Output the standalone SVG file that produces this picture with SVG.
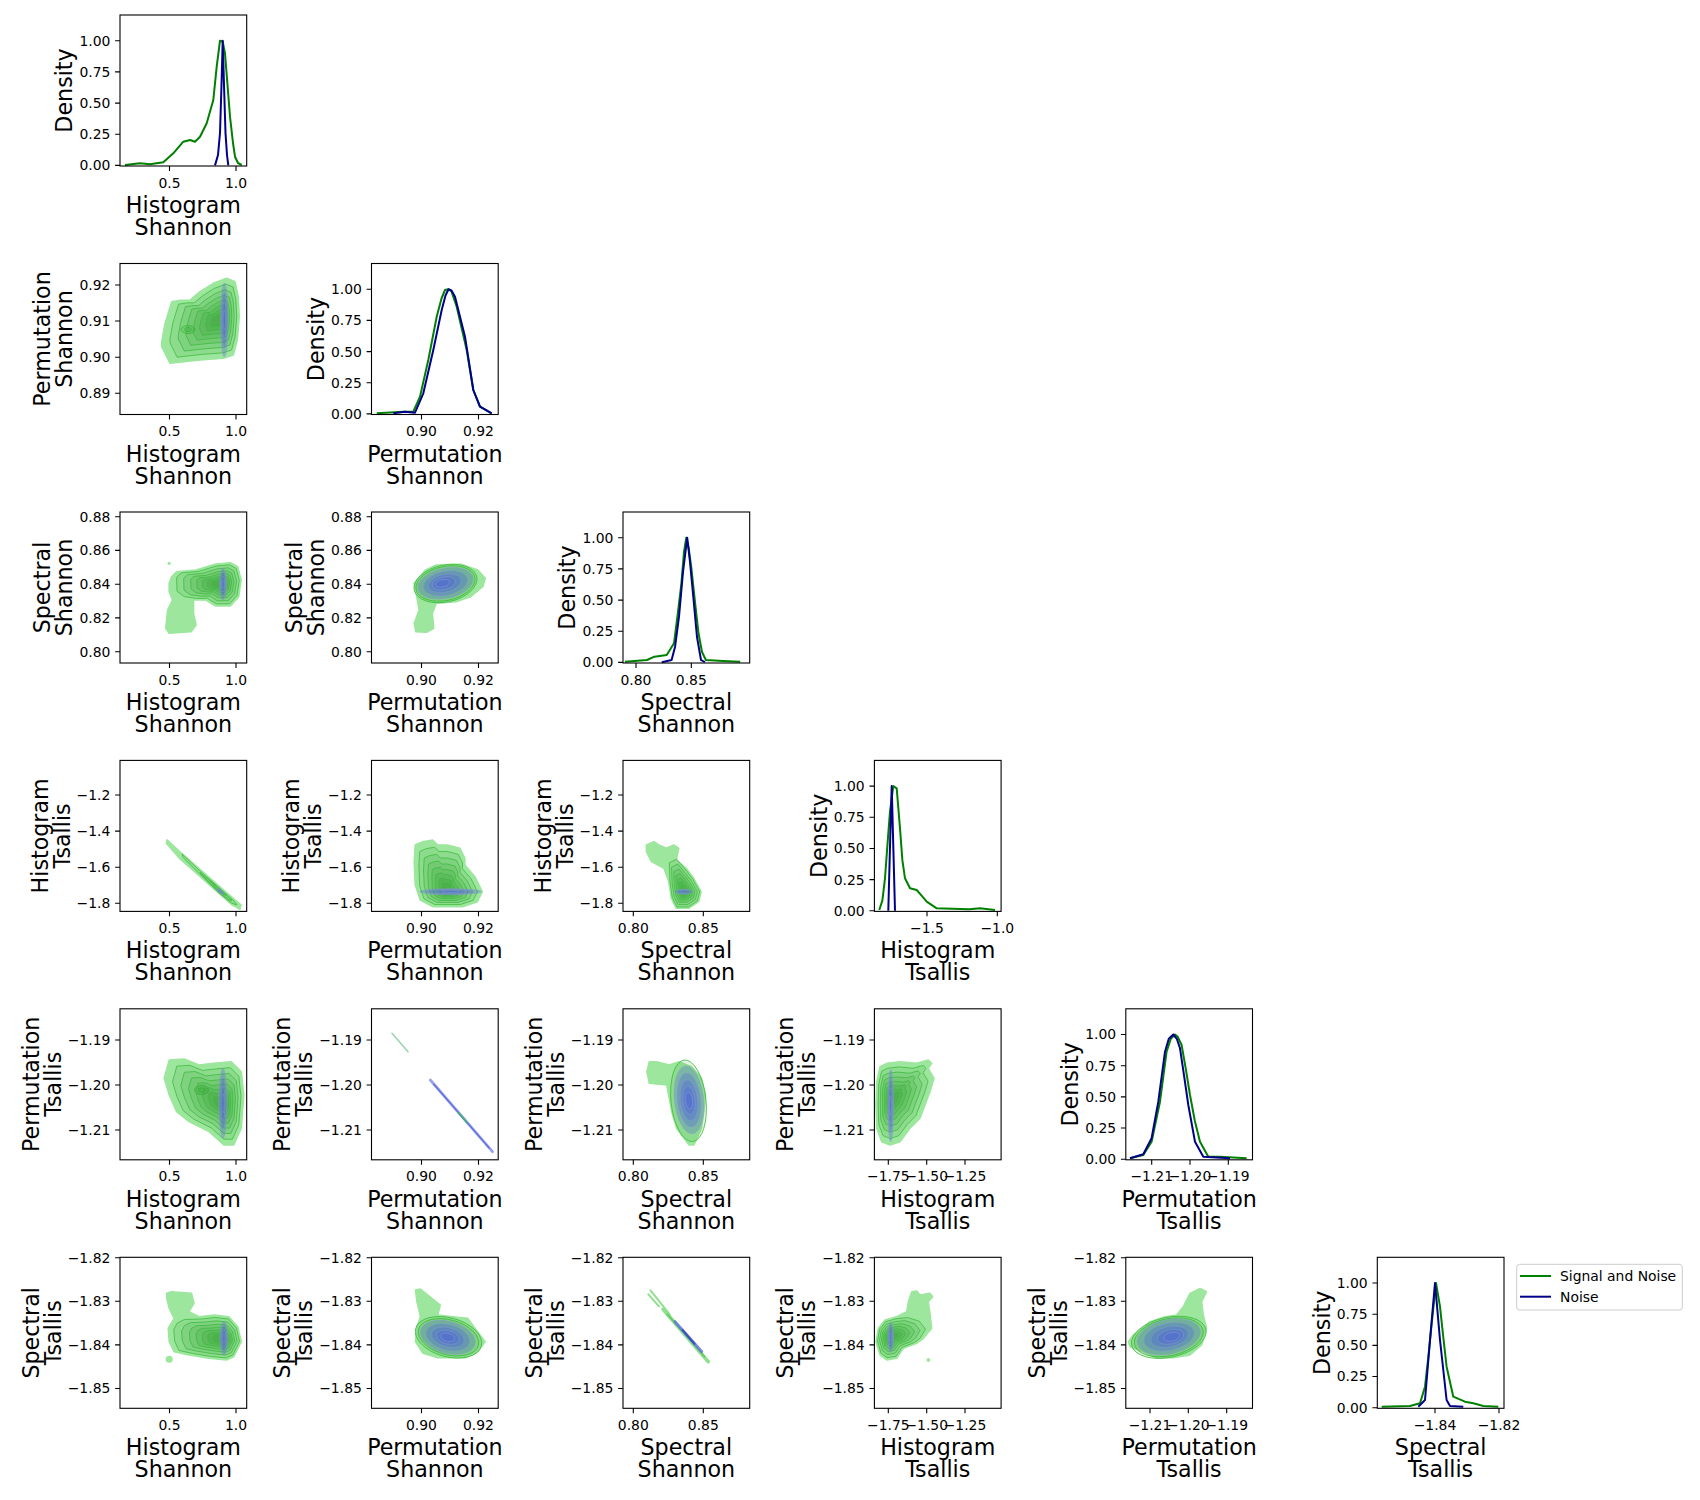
<svg xmlns="http://www.w3.org/2000/svg" xmlns:xlink="http://www.w3.org/1999/xlink" width="1700" height="1500" viewBox="0 0 1700 1500">
<style>
.ax{fill:none;stroke:#000;stroke-width:1.1}
.tm{stroke:#000;stroke-width:1.1;fill:none}
.tk{font-family:"DejaVu Sans","Liberation Sans",sans-serif;font-size:13.9px;fill:#000}
.xt{text-anchor:middle}
.yt{text-anchor:end}
.lb{font-family:"DejaVu Sans","Liberation Sans",sans-serif;font-size:22.2px;fill:#000;text-anchor:middle}
.g{fill:none;stroke:#008000;stroke-width:2;stroke-linejoin:round}
.n{fill:none;stroke:#00008b;stroke-width:2;stroke-linejoin:round}
.o{fill:#9de69d;stroke:#9de69d;stroke-width:1.5;stroke-linejoin:round}
.lv{fill:#138a13;fill-opacity:.11;stroke:#3dbb3d;stroke-width:.8;stroke-linejoin:round}
.bl{fill:#4c5ce0;fill-opacity:.28;stroke:#8c96dc;stroke-width:.5}
.lg{font-family:"DejaVu Sans","Liberation Sans",sans-serif;font-size:13.9px;fill:#000}
</style>
<defs>
<path id="k21" vector-effect="non-scaling-stroke" d="M41.7,78.2L45,60L51.7,38.2L60,36.8L70,36.5L80,28.2L93.3,19.8L106.7,14.8L115,18.2L118.3,33.2L119.3,53.2L117.3,76.5L113.3,91.5L103.3,94.8L80,96.5L50,99.8L46.7,93.2L41.7,83.2Z"/>
<ellipse id="e21" vector-effect="non-scaling-stroke" cx="104.3" cy="56.5" rx="3.8" ry="37"/>
<path id="k31" d="M51.6,64.7L56.5,59.7L76.1,58L95.7,52L110.4,50.7L117.7,54.7L121.2,68L118.7,84.7L110.4,94L95.7,94L85.9,88L73.6,88L73.6,101.3L76.1,113L71.2,119.7L49.1,121.3L45.7,116.3L47.6,98L52.5,88L49.1,79.7L49.1,71.3Z"/>
<path id="k31i" vector-effect="non-scaling-stroke" d="M51.6,64.7L56.5,59.7L76.1,58L95.7,52L110.4,50.7L117.7,54.7L121.2,68L118.7,84.7L110.4,94L95.7,94L85.9,88L73.6,88L60,86L52,80Z"/>
<ellipse id="e31" vector-effect="non-scaling-stroke" cx="103" cy="72" rx="3.5" ry="16"/>
<path id="k32" d="M54.1,58L64.8,53L89.3,52.3L106.4,58L113.8,66.3L111.3,74.7L99.1,84.7L84.4,89.7L64.8,91.3L60.9,101.3L62.3,116.3L55,120.3L44.2,119.7L42.7,111.3L47.6,98L45.2,84.7L42.7,71.3Z"/>
<ellipse id="e32" vector-effect="non-scaling-stroke" cx="74" cy="71.3" rx="28" ry="15" transform="rotate(-12 74 71.3)"/>
<path id="k42" vector-effect="non-scaling-stroke" d="M43.7,84.6L51.2,81.3L61.1,79.6L66.1,84.6L76,84.6L88.5,87.9L93.4,97.9L93.4,104.6L103.4,116.3L110.8,131.3L105.9,141.3L91,146.3L61.1,146.3L48.7,139.6L43.7,124.6L42.7,101.3Z"/>
<ellipse id="e42" vector-effect="non-scaling-stroke" cx="79" cy="131.3" rx="31" ry="3"/>
<path id="k43" d="M23.4,84.6L30.9,81.3L35.9,84.6L43.3,87.9L50.8,84.6L55.8,87.9L53.3,99.6L63.2,107.9L70.7,117.9L78.1,131.3L75.6,141.3L65.7,147.9L53.3,147.9L48.3,137.9L45.8,121.3L40.9,107.9L28.4,101.3L23.4,91.3Z"/>
<path id="k43i" vector-effect="non-scaling-stroke" d="M45,100L53,96L63.2,107.9L70.7,117.9L78.1,131.3L75.6,141.3L65.7,147.9L53.3,147.9L48.3,137.9L45.8,121.3Z"/>
<ellipse id="e43" vector-effect="non-scaling-stroke" cx="60.7" cy="131.3" rx="9" ry="2.5"/>
<path id="k51" vector-effect="non-scaling-stroke" d="M44.2,69.5L49.2,51.2L64.1,50.2L79,56.2L93.9,54.5L111.3,52.9L121.3,62.9L123.8,86.2L121.3,119.5L113.8,136.2L103.9,136.2L89,122.9L69,112.9L56.6,102.9L49.2,86.2Z"/>
<ellipse id="e51" vector-effect="non-scaling-stroke" cx="102.9" cy="94.5" rx="4" ry="35"/>
<path id="k53" d="M26.3,52.9L33.7,52.9L46.2,56.2L56.1,52.9L68.5,57.9L78.5,69.5L82.5,86.2L80.9,102.9L78.5,119.5L71,136.2L66,136.2L53.6,119.5L48.7,102.9L43.7,76.2L26.3,74.5L23.8,62.9Z"/>
<ellipse id="e53" vector-effect="non-scaling-stroke" cx="66" cy="91" rx="14.5" ry="34" transform="rotate(-6 66 91)"/>
<path id="k54" vector-effect="non-scaling-stroke" d="M2.3,72.9L5.6,57.9L12.3,54.5L25.6,52.9L42.3,54.5L53.9,51.2L57.3,54.5L53.9,59.5L59.6,69.5L55.6,82.9L50.6,96.2L45.6,109.5L35.6,119.5L25.6,132.9L15.6,136.2L7.3,132.9L2.3,119.5L1.6,96.2Z"/>
<ellipse id="e54" vector-effect="non-scaling-stroke" cx="16.3" cy="97" rx="2.8" ry="36"/>
<path id="k61" d="M46.7,36L51.6,34.4L71.5,36L74,46L69,54.4L79,59.4L93.9,57.7L108.9,59.4L117.8,69.4L121.3,84.4L113.8,99.4L106.4,102.7L89,101L69,97.7L54.1,94.4L49.2,84.4L48.2,71L54.1,61L49.2,51L46.7,41Z"/>
<path id="k61i" vector-effect="non-scaling-stroke" d="M52,64L60,60L79,59.4L93.9,57.7L108.9,59.4L117.8,69.4L121.3,84.4L113.8,99.4L106.4,102.7L89,101L69,97.7L54.1,94.4L49.2,84.4L48.2,71Z"/>
<ellipse id="e61" vector-effect="non-scaling-stroke" cx="103.9" cy="81" rx="4" ry="17"/>
<path id="k62" d="M43.9,32.7L48.9,31.7L56.4,37.7L68.8,47.7L66.3,57.7L81.2,59.4L96.2,61L106.1,74.4L113.6,84.4L106.1,94.4L93.7,100.4L66.3,100.4L51.4,96L43.9,84.4L45.4,69.4L48.9,59.4L45.4,44.4Z"/>
<ellipse id="e62" vector-effect="non-scaling-stroke" cx="76.3" cy="80" rx="28" ry="16" transform="rotate(15 76.3 80)"/>
<path id="k64" d="M37.3,34.4L42.3,33.7L45.6,37.7L55.6,36L58.3,39.4L53.9,44.4L55.6,56L57.3,71L49,81L42.3,86L29,91L22.3,101L12.3,102.7L5.6,97.7L1.6,84.4L4,71L10.6,62.7L22.3,59.4L32.3,54.4L34,44.4Z"/>
<path id="k64i" vector-effect="non-scaling-stroke" d="M4,71L10.6,62.7L22.3,59.4L35,58L48,62L55,71L49,81L42.3,86L29,91L22.3,101L12.3,102.7L5.6,97.7L1.6,84.4Z"/>
<ellipse id="e64" vector-effect="non-scaling-stroke" cx="16.3" cy="80" rx="2.8" ry="15"/>
<path id="k65" d="M2.5,84.4L7.5,77.7L24.2,64.4L39.2,59.4L50.8,57.7L57.5,49.4L64.2,36L74.2,31L80.8,34.4L75.8,44.4L77.5,57.7L80.8,71L75.8,87.7L64.2,97.7L47.5,100.4L30.8,100.4L17.5,94.4L4.2,89.4Z"/>
<ellipse id="e65" vector-effect="non-scaling-stroke" cx="43" cy="79.5" rx="32" ry="17" transform="rotate(-12 43 79.5)"/>
</defs>
<rect width="1700" height="1500" fill="#fff"/>

<!-- Row 1 -->
<g id="p-r1c1" transform="translate(120,15)">
<path class="g" d="M5,150L20,148.3L30,149.3L43.3,147.3L53.3,138.3L63.3,126.7L70,125L75,126.7L80,121.7L86.7,108.3L93.3,85L96.7,51.7L100,25.7L102.7,26.7L105,38.3L107.5,70L110,101.7L113,128L115,141.7L118,148L121.7,150"/>
<path class="n" d="M95,150.4L98,140L100,118L101.5,70L102.7,25.7L104,70L105.5,118L107,140L108.3,150.4"/>
<rect class="ax" width="126.7" height="151"/>
<path class="tm" d="M-4.9,25.7H0M-4.9,56.9H0M-4.9,88.1H0M-4.9,119.2H0M-4.9,150.4H0M49.5,151v4.9M116,151v4.9"/>
<text class="tk yt" x="-9.7" y="30.7">1.00</text><text class="tk yt" x="-9.7" y="61.9">0.75</text><text class="tk yt" x="-9.7" y="93.1">0.50</text><text class="tk yt" x="-9.7" y="124.2">0.25</text><text class="tk yt" x="-9.7" y="155.4">0.00</text>
<text class="tk xt" x="49.5" y="172.6">0.5</text><text class="tk xt" x="116" y="172.6">1.0</text>
<text class="lb" x="63.35" y="198">Histogram</text><text class="lb" x="63.35" y="220">Shannon</text>
<text class="lb" transform="translate(-47.6,75.5) rotate(-90)">Density</text>
</g>

<!-- Row 2 -->
<g id="p-r2c1" transform="translate(120,263.5)">
<use href="#k21" class="o"/>
<use href="#k21" class="lv" transform="translate(101 56) scale(.86) translate(-101 -56)"/>
<use href="#k21" class="lv" transform="translate(101 56) scale(.72) translate(-101 -56)"/>
<ellipse class="lv" cx="68" cy="66" rx="7" ry="4"/>
<ellipse class="lv" cx="68" cy="66" rx="3.5" ry="2"/>
<use href="#k21" class="lv" transform="translate(101 56) scale(.59) translate(-101 -56)"/>
<use href="#k21" class="lv" transform="translate(101 56) scale(.47) translate(-101 -56)"/>
<use href="#k21" class="lv" transform="translate(101 56) scale(.36) translate(-101 -56)"/>
<use href="#k21" class="lv" transform="translate(101 56) scale(.26) translate(-101 -56)"/>
<use href="#k21" class="lv" transform="translate(101 56) scale(.17) translate(-101 -56)"/>
<use href="#e21" class="bl"/>
<use href="#e21" class="bl" transform="translate(104.3 56.5) scale(.75) translate(-104.3 -56.5)"/>
<use href="#e21" class="bl" transform="translate(104.3 56.5) scale(.5) translate(-104.3 -56.5)"/>
<use href="#e21" class="bl" transform="translate(104.3 56.5) scale(.28) translate(-104.3 -56.5)"/>
<rect class="ax" width="126.7" height="151"/>
<path class="tm" d="M-4.9,21.5H0M-4.9,57.5H0M-4.9,93.8H0M-4.9,129.8H0M49.5,151v4.9M116,151v4.9"/>
<text class="tk yt" x="-9.7" y="26.5">0.92</text><text class="tk yt" x="-9.7" y="62.5">0.91</text><text class="tk yt" x="-9.7" y="98.8">0.90</text><text class="tk yt" x="-9.7" y="134.8">0.89</text>
<text class="tk xt" x="49.5" y="172.6">0.5</text><text class="tk xt" x="116" y="172.6">1.0</text>
<text class="lb" x="63.35" y="198">Histogram</text><text class="lb" x="63.35" y="220">Shannon</text>
<text class="lb" transform="translate(-69.6,75.5) rotate(-90)">Permutation</text><text class="lb" transform="translate(-47.6,75.5) rotate(-90)">Shannon</text>
</g>
<g id="p-r2c2" transform="translate(371.5,263.5)">
<path class="g" d="M5.2,149.8L31.8,148.2L41.8,148.2L48.5,133.2L56.8,96.5L65.2,53.2L70,35L73.5,26.5L76.8,25.7L80,28L85.2,43.2L95.2,86.5L101.8,126.5L108.5,143.2L120.2,149.8"/>
<path class="n" d="M21.8,149.8L33.5,148.2L43.5,149.2L51.8,129.8L61.8,86.5L70.2,46.5L74,32L77,25.7L80,27L83.5,33.2L93.5,73.2L101.8,126.5L108.5,143.2L120.2,149.8"/>
<rect class="ax" width="126.7" height="151"/>
<path class="tm" d="M-4.9,25.7H0M-4.9,56.9H0M-4.9,88.1H0M-4.9,119.2H0M-4.9,150.4H0M50,151v4.9M107,151v4.9"/>
<text class="tk yt" x="-9.7" y="30.7">1.00</text><text class="tk yt" x="-9.7" y="61.9">0.75</text><text class="tk yt" x="-9.7" y="93.1">0.50</text><text class="tk yt" x="-9.7" y="124.2">0.25</text><text class="tk yt" x="-9.7" y="155.4">0.00</text>
<text class="tk xt" x="50" y="172.6">0.90</text><text class="tk xt" x="107" y="172.6">0.92</text>
<text class="lb" x="63.35" y="198">Permutation</text><text class="lb" x="63.35" y="220">Shannon</text>
<text class="lb" transform="translate(-47.6,75.5) rotate(-90)">Density</text>
</g>

<!-- Row 3 -->
<g id="p-r3c1" transform="translate(120,512)">
<use href="#k31" class="o"/>
<circle class="o" cx="49.1" cy="51.3" r="0.9"/>
<use href="#k31i" class="lv" transform="translate(102 72) scale(.9) translate(-102 -72)"/>
<use href="#k31i" class="lv" transform="translate(102 72) scale(.76) translate(-102 -72)"/>
<use href="#k31i" class="lv" transform="translate(102 72) scale(.62) translate(-102 -72)"/>
<use href="#k31i" class="lv" transform="translate(102 72) scale(.5) translate(-102 -72)"/>
<use href="#k31i" class="lv" transform="translate(102 72) scale(.39) translate(-102 -72)"/>
<use href="#k31i" class="lv" transform="translate(102 72) scale(.29) translate(-102 -72)"/>
<use href="#k31i" class="lv" transform="translate(102 72) scale(.2) translate(-102 -72)"/>
<use href="#e31" class="bl"/>
<use href="#e31" class="bl" transform="translate(103 72) scale(.75) translate(-103 -72)"/>
<use href="#e31" class="bl" transform="translate(103 72) scale(.5) translate(-103 -72)"/>
<use href="#e31" class="bl" transform="translate(103 72) scale(.28) translate(-103 -72)"/>
<rect class="ax" width="126.7" height="151"/>
<path class="tm" d="M-4.9,4.7H0M-4.9,38.4H0M-4.9,72.2H0M-4.9,105.9H0M-4.9,139.7H0M49.5,151v4.9M116,151v4.9"/>
<text class="tk yt" x="-9.7" y="9.7">0.88</text><text class="tk yt" x="-9.7" y="43.4">0.86</text><text class="tk yt" x="-9.7" y="77.2">0.84</text><text class="tk yt" x="-9.7" y="110.9">0.82</text><text class="tk yt" x="-9.7" y="144.7">0.80</text>
<text class="tk xt" x="49.5" y="172.6">0.5</text><text class="tk xt" x="116" y="172.6">1.0</text>
<text class="lb" x="63.35" y="198">Histogram</text><text class="lb" x="63.35" y="220">Shannon</text>
<text class="lb" transform="translate(-69.6,75.5) rotate(-90)">Spectral</text><text class="lb" transform="translate(-47.6,75.5) rotate(-90)">Shannon</text>
</g>
<g id="p-r3c2" transform="translate(371.5,512)">
<use href="#k32" class="o"/>
<ellipse class="lv" cx="74" cy="71.5" rx="32" ry="18.5" transform="rotate(-12 74 71.5)"/>
<ellipse class="lv" cx="74" cy="71.5" rx="30" ry="17" transform="rotate(-12 74 71.5)"/>
<use href="#e32" class="bl"/>
<use href="#e32" class="bl" transform="translate(74 71.3) scale(.8) translate(-74 -71.3)"/>
<use href="#e32" class="bl" transform="translate(72 71.3) scale(.6) translate(-72 -71.3)"/>
<use href="#e32" class="bl" transform="translate(71 71.3) scale(.42) translate(-71 -71.3)"/>
<use href="#e32" class="bl" transform="translate(70 71.3) scale(.25) translate(-70 -71.3)"/>
<rect class="ax" width="126.7" height="151"/>
<path class="tm" d="M-4.9,4.7H0M-4.9,38.4H0M-4.9,72.2H0M-4.9,105.9H0M-4.9,139.7H0M50,151v4.9M107,151v4.9"/>
<text class="tk yt" x="-9.7" y="9.7">0.88</text><text class="tk yt" x="-9.7" y="43.4">0.86</text><text class="tk yt" x="-9.7" y="77.2">0.84</text><text class="tk yt" x="-9.7" y="110.9">0.82</text><text class="tk yt" x="-9.7" y="144.7">0.80</text>
<text class="tk xt" x="50" y="172.6">0.90</text><text class="tk xt" x="107" y="172.6">0.92</text>
<text class="lb" x="63.35" y="198">Permutation</text><text class="lb" x="63.35" y="220">Shannon</text>
<text class="lb" transform="translate(-69.6,75.5) rotate(-90)">Spectral</text><text class="lb" transform="translate(-47.6,75.5) rotate(-90)">Shannon</text>
</g>
<g id="p-r3c3" transform="translate(623,512)">
<path class="g" d="M2,149.7L24,148L31.4,144.7L43.7,143L51,131.3L55,100L58.4,71.3L61,40L63.3,25.7L65.5,35L68.2,54.7L72,90L75.5,121.3L79,140L82.9,148L100,149L117.2,149.7"/>
<path class="n" d="M38.8,150.2L48.6,148L52,135L56,104.7L60,60L64.2,25.7L67,50L70.6,88L74,125L78,148L81.9,150.2"/>
<rect class="ax" width="126.7" height="151"/>
<path class="tm" d="M-4.9,25.7H0M-4.9,56.9H0M-4.9,88.1H0M-4.9,119.2H0M-4.9,150.4H0M13,151v4.9M68.3,151v4.9"/>
<text class="tk yt" x="-9.7" y="30.7">1.00</text><text class="tk yt" x="-9.7" y="61.9">0.75</text><text class="tk yt" x="-9.7" y="93.1">0.50</text><text class="tk yt" x="-9.7" y="124.2">0.25</text><text class="tk yt" x="-9.7" y="155.4">0.00</text>
<text class="tk xt" x="13" y="172.6">0.80</text><text class="tk xt" x="68.3" y="172.6">0.85</text>
<text class="lb" x="63.35" y="198">Spectral</text><text class="lb" x="63.35" y="220">Shannon</text>
<text class="lb" transform="translate(-47.6,75.5) rotate(-90)">Density</text>
</g>

<!-- Row 4 -->
<g id="p-r4c1" transform="translate(120,760.4)">
<path class="o" d="M47,79.5L60,91.5L80,109L100,126.5L115,139.5L121,144.5L120,149L112,144.5L100,134L80,116L60,98.5L46.5,83Z"/>
<path class="lv" d="M62,93.5L80,110.5L100,128L114,140.5L117,144.5L112,143L99,132.5L80,114L63,97Z"/>
<path class="lv" d="M80,112L100,129L112,140L109,139.5L98,131L82,114.5Z"/>
<path class="lv" d="M90,120L100,129.5L106,135L103,134L96,128Z"/>
<ellipse class="bl" cx="100.3" cy="131" rx="4.5" ry="1.4" transform="rotate(42 100.3 131)"/>
<ellipse class="bl" cx="100.3" cy="131" rx="2.5" ry="0.8" transform="rotate(42 100.3 131)"/>
<rect class="ax" width="126.7" height="151"/>
<path class="tm" d="M-4.9,34.6H0M-4.9,70.7H0M-4.9,106.8H0M-4.9,142.9H0M49.5,151v4.9M116,151v4.9"/>
<text class="tk yt" x="-9.7" y="39.6">−1.2</text><text class="tk yt" x="-9.7" y="75.7">−1.4</text><text class="tk yt" x="-9.7" y="111.8">−1.6</text><text class="tk yt" x="-9.7" y="147.9">−1.8</text>
<text class="tk xt" x="49.5" y="172.6">0.5</text><text class="tk xt" x="116" y="172.6">1.0</text>
<text class="lb" x="63.35" y="198">Histogram</text><text class="lb" x="63.35" y="220">Shannon</text>
<text class="lb" transform="translate(-72.5,75.5) rotate(-90)">Histogram</text><text class="lb" transform="translate(-50.5,75.5) rotate(-90)">Tsallis</text>
</g>
<g id="p-r4c2" transform="translate(371.5,760.4)">
<use href="#k42" class="o"/>
<use href="#k42" class="lv" transform="translate(76 131) scale(.86) translate(-76 -131)"/>
<use href="#k42" class="lv" transform="translate(76 131) scale(.72) translate(-76 -131)"/>
<use href="#k42" class="lv" transform="translate(76 131) scale(.59) translate(-76 -131)"/>
<use href="#k42" class="lv" transform="translate(76 131) scale(.47) translate(-76 -131)"/>
<use href="#k42" class="lv" transform="translate(76 131) scale(.36) translate(-76 -131)"/>
<use href="#k42" class="lv" transform="translate(76 131) scale(.26) translate(-76 -131)"/>
<use href="#k42" class="lv" transform="translate(76 131) scale(.17) translate(-76 -131)"/>
<use href="#e42" class="bl"/>
<use href="#e42" class="bl" transform="translate(79 131.3) scale(.75) translate(-79 -131.3)"/>
<use href="#e42" class="bl" transform="translate(79 131.3) scale(.5) translate(-79 -131.3)"/>
<use href="#e42" class="bl" transform="translate(79 131.3) scale(.28) translate(-79 -131.3)"/>
<rect class="ax" width="126.7" height="151"/>
<path class="tm" d="M-4.9,34.6H0M-4.9,70.7H0M-4.9,106.8H0M-4.9,142.9H0M50,151v4.9M107,151v4.9"/>
<text class="tk yt" x="-9.7" y="39.6">−1.2</text><text class="tk yt" x="-9.7" y="75.7">−1.4</text><text class="tk yt" x="-9.7" y="111.8">−1.6</text><text class="tk yt" x="-9.7" y="147.9">−1.8</text>
<text class="tk xt" x="50" y="172.6">0.90</text><text class="tk xt" x="107" y="172.6">0.92</text>
<text class="lb" x="63.35" y="198">Permutation</text><text class="lb" x="63.35" y="220">Shannon</text>
<text class="lb" transform="translate(-72.5,75.5) rotate(-90)">Histogram</text><text class="lb" transform="translate(-50.5,75.5) rotate(-90)">Tsallis</text>
</g>
<g id="p-r4c3" transform="translate(623,760.4)">
<use href="#k43" class="o"/>
<use href="#k43i" class="lv" transform="translate(61 131) scale(.92) translate(-61 -131)"/>
<use href="#k43i" class="lv" transform="translate(61 131) scale(.78) translate(-61 -131)"/>
<use href="#k43i" class="lv" transform="translate(61 131) scale(.64) translate(-61 -131)"/>
<use href="#k43i" class="lv" transform="translate(61 131) scale(.51) translate(-61 -131)"/>
<use href="#k43i" class="lv" transform="translate(61 131) scale(.39) translate(-61 -131)"/>
<use href="#k43i" class="lv" transform="translate(61 131) scale(.28) translate(-61 -131)"/>
<use href="#k43i" class="lv" transform="translate(61 131) scale(.18) translate(-61 -131)"/>
<use href="#e43" class="bl"/>
<use href="#e43" class="bl" transform="translate(60.7 131.3) scale(.7) translate(-60.7 -131.3)"/>
<use href="#e43" class="bl" transform="translate(60.7 131.3) scale(.4) translate(-60.7 -131.3)"/>
<rect class="ax" width="126.7" height="151"/>
<path class="tm" d="M-4.9,34.6H0M-4.9,70.7H0M-4.9,106.8H0M-4.9,142.9H0M10.3,151v4.9M80.3,151v4.9"/>
<text class="tk yt" x="-9.7" y="39.6">−1.2</text><text class="tk yt" x="-9.7" y="75.7">−1.4</text><text class="tk yt" x="-9.7" y="111.8">−1.6</text><text class="tk yt" x="-9.7" y="147.9">−1.8</text>
<text class="tk xt" x="10.3" y="172.6">0.80</text><text class="tk xt" x="80.3" y="172.6">0.85</text>
<text class="lb" x="63.35" y="198">Spectral</text><text class="lb" x="63.35" y="220">Shannon</text>
<text class="lb" transform="translate(-72.5,75.5) rotate(-90)">Histogram</text><text class="lb" transform="translate(-50.5,75.5) rotate(-90)">Tsallis</text>
</g>
<g id="p-r4c4" transform="translate(874.4,760.4)">
<path class="g" d="M4.9,149.6L8,140L10.6,117.9L13,85L15.6,51.3L18.9,25.7L22.3,27.9L25.6,67.9L28,100L30.6,117.9L35.6,127.9L42.3,129.6L47,135L52.3,141.3L62.3,147.9L85.6,148.6L95,148.8L105.6,147.9L120.6,149.6"/>
<path class="n" d="M13.9,150.4L15.5,90L17.3,25.7L19,90L20.6,150.4"/>
<rect class="ax" width="126.7" height="151"/>
<path class="tm" d="M-4.9,25.7H0M-4.9,56.9H0M-4.9,88.1H0M-4.9,119.2H0M-4.9,150.4H0M52.6,151v4.9M122.9,151v4.9"/>
<text class="tk yt" x="-9.7" y="30.7">1.00</text><text class="tk yt" x="-9.7" y="61.9">0.75</text><text class="tk yt" x="-9.7" y="93.1">0.50</text><text class="tk yt" x="-9.7" y="124.2">0.25</text><text class="tk yt" x="-9.7" y="155.4">0.00</text>
<text class="tk xt" x="52.6" y="172.6">−1.5</text><text class="tk xt" x="122.9" y="172.6">−1.0</text>
<text class="lb" x="63.35" y="198">Histogram</text><text class="lb" x="63.35" y="220">Tsallis</text>
<text class="lb" transform="translate(-47.6,75.5) rotate(-90)">Density</text>
</g>

<!-- Row 5 -->
<g id="p-r5c1" transform="translate(120,1008.8)">
<use href="#k51" class="o"/>
<use href="#k51" class="lv" transform="translate(103.5 95) scale(.86) translate(-103.5 -95)"/>
<use href="#k51" class="lv" transform="translate(103.5 95) scale(.72) translate(-103.5 -95)"/>
<ellipse class="lv" cx="81.5" cy="81.2" rx="7" ry="4.5"/>
<ellipse class="lv" cx="81.5" cy="81.2" rx="3.5" ry="2.2"/>
<use href="#k51" class="lv" transform="translate(103.5 95) scale(.59) translate(-103.5 -95)"/>
<use href="#k51" class="lv" transform="translate(103.5 95) scale(.47) translate(-103.5 -95)"/>
<use href="#k51" class="lv" transform="translate(103.5 95) scale(.36) translate(-103.5 -95)"/>
<use href="#k51" class="lv" transform="translate(103.5 95) scale(.26) translate(-103.5 -95)"/>
<use href="#k51" class="lv" transform="translate(103.5 95) scale(.17) translate(-103.5 -95)"/>
<use href="#e51" class="bl"/>
<use href="#e51" class="bl" transform="translate(102.9 94.5) scale(.75) translate(-102.9 -94.5)"/>
<use href="#e51" class="bl" transform="translate(102.9 94.5) scale(.5) translate(-102.9 -94.5)"/>
<use href="#e51" class="bl" transform="translate(102.9 94.5) scale(.28) translate(-102.9 -94.5)"/>
<rect class="ax" width="126.7" height="151"/>
<path class="tm" d="M-4.9,31.2H0M-4.9,76.2H0M-4.9,121.2H0M49.5,151v4.9M116,151v4.9"/>
<text class="tk yt" x="-9.7" y="36.2">−1.19</text><text class="tk yt" x="-9.7" y="81.2">−1.20</text><text class="tk yt" x="-9.7" y="126.2">−1.21</text>
<text class="tk xt" x="49.5" y="172.6">0.5</text><text class="tk xt" x="116" y="172.6">1.0</text>
<text class="lb" x="63.35" y="198">Histogram</text><text class="lb" x="63.35" y="220">Shannon</text>
<text class="lb" transform="translate(-81.3,75.5) rotate(-90)">Permutation</text><text class="lb" transform="translate(-59.3,75.5) rotate(-90)">Tsallis</text>
</g>
<g id="p-r5c2" transform="translate(371.5,1008.8)">
<path d="M20.5,24.5L36.5,42.9" stroke="#9ad6b0" stroke-width="1.6" stroke-linecap="round"/>
<path d="M58.8,71.2L121,142.9" stroke="#98a2ea" stroke-width="2.8" stroke-linecap="round"/>
<path d="M62,75L118,139.5" stroke="#4455dd" stroke-width="1.1" stroke-opacity=".75"/>
<path d="M86,103L96,114.5" stroke="#3cb371" stroke-width="1.4"/>
<rect class="ax" width="126.7" height="151"/>
<path class="tm" d="M-4.9,31.2H0M-4.9,76.2H0M-4.9,121.2H0M50,151v4.9M107,151v4.9"/>
<text class="tk yt" x="-9.7" y="36.2">−1.19</text><text class="tk yt" x="-9.7" y="81.2">−1.20</text><text class="tk yt" x="-9.7" y="126.2">−1.21</text>
<text class="tk xt" x="50" y="172.6">0.90</text><text class="tk xt" x="107" y="172.6">0.92</text>
<text class="lb" x="63.35" y="198">Permutation</text><text class="lb" x="63.35" y="220">Shannon</text>
<text class="lb" transform="translate(-81.3,75.5) rotate(-90)">Permutation</text><text class="lb" transform="translate(-59.3,75.5) rotate(-90)">Tsallis</text>
</g>
<g id="p-r5c3" transform="translate(623,1008.8)">
<use href="#k53" class="o"/>
<ellipse class="lv" cx="65.5" cy="92" rx="17.5" ry="41" transform="rotate(-6 65.5 92)"/>
<use href="#e53" class="bl"/>
<use href="#e53" class="bl" transform="translate(66 92) scale(.8) translate(-66 -92)"/>
<use href="#e53" class="bl" transform="translate(66 92) scale(.6) translate(-66 -92)"/>
<use href="#e53" class="bl" transform="translate(66 92) scale(.42) translate(-66 -92)"/>
<use href="#e53" class="bl" transform="translate(66 92) scale(.25) translate(-66 -92)"/>
<rect class="ax" width="126.7" height="151"/>
<path class="tm" d="M-4.9,31.2H0M-4.9,76.2H0M-4.9,121.2H0M10.3,151v4.9M80.3,151v4.9"/>
<text class="tk yt" x="-9.7" y="36.2">−1.19</text><text class="tk yt" x="-9.7" y="81.2">−1.20</text><text class="tk yt" x="-9.7" y="126.2">−1.21</text>
<text class="tk xt" x="10.3" y="172.6">0.80</text><text class="tk xt" x="80.3" y="172.6">0.85</text>
<text class="lb" x="63.35" y="198">Spectral</text><text class="lb" x="63.35" y="220">Shannon</text>
<text class="lb" transform="translate(-81.3,75.5) rotate(-90)">Permutation</text><text class="lb" transform="translate(-59.3,75.5) rotate(-90)">Tsallis</text>
</g>
<g id="p-r5c4" transform="translate(874.4,1008.8)">
<use href="#k54" class="o"/>
<use href="#k54" class="lv" transform="translate(17 90) scale(.86) translate(-17 -90)"/>
<use href="#k54" class="lv" transform="translate(17 90) scale(.72) translate(-17 -90)"/>
<use href="#k54" class="lv" transform="translate(17 90) scale(.59) translate(-17 -90)"/>
<use href="#k54" class="lv" transform="translate(17 90) scale(.47) translate(-17 -90)"/>
<use href="#k54" class="lv" transform="translate(17 90) scale(.36) translate(-17 -90)"/>
<use href="#k54" class="lv" transform="translate(17 90) scale(.26) translate(-17 -90)"/>
<use href="#k54" class="lv" transform="translate(17 90) scale(.17) translate(-17 -90)"/>
<use href="#e54" class="bl"/>
<use href="#e54" class="bl" transform="translate(16.3 97) scale(.75) translate(-16.3 -97)"/>
<use href="#e54" class="bl" transform="translate(16.3 97) scale(.5) translate(-16.3 -97)"/>
<use href="#e54" class="bl" transform="translate(16.3 97) scale(.28) translate(-16.3 -97)"/>
<rect class="ax" width="126.7" height="151"/>
<path class="tm" d="M-4.9,31.2H0M-4.9,76.2H0M-4.9,121.2H0M13.9,151v4.9M52.3,151v4.9M90.6,151v4.9"/>
<text class="tk yt" x="-9.7" y="36.2">−1.19</text><text class="tk yt" x="-9.7" y="81.2">−1.20</text><text class="tk yt" x="-9.7" y="126.2">−1.21</text>
<text class="tk xt" x="13.9" y="172.6">−1.75</text><text class="tk xt" x="52.3" y="172.6">−1.50</text><text class="tk xt" x="90.6" y="172.6">−1.25</text>
<text class="lb" x="63.35" y="198">Histogram</text><text class="lb" x="63.35" y="220">Tsallis</text>
<text class="lb" transform="translate(-81.3,75.5) rotate(-90)">Permutation</text><text class="lb" transform="translate(-59.3,75.5) rotate(-90)">Tsallis</text>
</g>
<g id="p-r5c5" transform="translate(1125.8,1008.8)">
<path class="g" d="M4.2,149.5L17.5,146.2L25.8,132.9L34.2,92.9L40.8,42.9L45,30L49.2,25.7L52,28L55.8,36.2L60,60L64.2,86.2L69,112L74.2,132.9L82.5,147.9L94.2,147.9L120.8,149.5"/>
<path class="n" d="M4.2,149.5L17.5,145.5L25.8,129.5L32.5,92.9L39.2,42.9L43,30L47.5,25.7L51,30L54.2,39.5L58,65L62.5,96.2L69.2,132.9L77.5,147.9L104.2,149.5"/>
<rect class="ax" width="126.7" height="151"/>
<path class="tm" d="M-4.9,25.7H0M-4.9,56.9H0M-4.9,88.1H0M-4.9,119.2H0M-4.9,150.4H0M25.9,151v4.9M64.2,151v4.9M102.5,151v4.9"/>
<text class="tk yt" x="-9.7" y="30.7">1.00</text><text class="tk yt" x="-9.7" y="61.9">0.75</text><text class="tk yt" x="-9.7" y="93.1">0.50</text><text class="tk yt" x="-9.7" y="124.2">0.25</text><text class="tk yt" x="-9.7" y="155.4">0.00</text>
<text class="tk xt" x="25.9" y="172.6">−1.21</text><text class="tk xt" x="64.2" y="172.6">−1.20</text><text class="tk xt" x="102.5" y="172.6">−1.19</text>
<text class="lb" x="63.35" y="198">Permutation</text><text class="lb" x="63.35" y="220">Tsallis</text>
<text class="lb" transform="translate(-47.6,75.5) rotate(-90)">Density</text>
</g>

<!-- Row 6 -->
<g id="p-r6c1" transform="translate(120,1257.3)">
<use href="#k61" class="o"/>
<circle class="o" cx="49.2" cy="102" r="2.8"/>
<use href="#k61i" class="lv" transform="translate(104 82) scale(.9) translate(-104 -82)"/>
<use href="#k61i" class="lv" transform="translate(104 82) scale(.76) translate(-104 -82)"/>
<use href="#k61i" class="lv" transform="translate(104 82) scale(.62) translate(-104 -82)"/>
<use href="#k61i" class="lv" transform="translate(104 82) scale(.5) translate(-104 -82)"/>
<use href="#k61i" class="lv" transform="translate(104 82) scale(.39) translate(-104 -82)"/>
<use href="#k61i" class="lv" transform="translate(104 82) scale(.29) translate(-104 -82)"/>
<use href="#k61i" class="lv" transform="translate(104 82) scale(.2) translate(-104 -82)"/>
<use href="#e61" class="bl"/>
<use href="#e61" class="bl" transform="translate(103.9 81) scale(.75) translate(-103.9 -81)"/>
<use href="#e61" class="bl" transform="translate(103.9 81) scale(.5) translate(-103.9 -81)"/>
<use href="#e61" class="bl" transform="translate(103.9 81) scale(.28) translate(-103.9 -81)"/>
<rect class="ax" width="126.7" height="151"/>
<path class="tm" d="M-4.9,0.4H0M-4.9,44H0M-4.9,87.6H0M-4.9,131.2H0M49.5,151v4.9M116,151v4.9"/>
<text class="tk yt" x="-9.7" y="5.4">−1.82</text><text class="tk yt" x="-9.7" y="49">−1.83</text><text class="tk yt" x="-9.7" y="92.6">−1.84</text><text class="tk yt" x="-9.7" y="136.2">−1.85</text>
<text class="tk xt" x="49.5" y="172.6">0.5</text><text class="tk xt" x="116" y="172.6">1.0</text>
<text class="lb" x="63.35" y="198">Histogram</text><text class="lb" x="63.35" y="220">Shannon</text>
<text class="lb" transform="translate(-81.3,75.5) rotate(-90)">Spectral</text><text class="lb" transform="translate(-59.3,75.5) rotate(-90)">Tsallis</text>
</g>
<g id="p-r6c2" transform="translate(371.5,1257.3)">
<use href="#k62" class="o"/>
<ellipse class="lv" cx="77" cy="80" rx="34" ry="19.5" transform="rotate(15 77 80)"/>
<ellipse class="lv" cx="77" cy="80" rx="31" ry="17.5" transform="rotate(15 77 80)"/>
<use href="#e62" class="bl"/>
<use href="#e62" class="bl" transform="translate(76.3 80) scale(.8) translate(-76.3 -80)"/>
<use href="#e62" class="bl" transform="translate(76.3 80) scale(.6) translate(-76.3 -80)"/>
<use href="#e62" class="bl" transform="translate(76.3 80) scale(.42) translate(-76.3 -80)"/>
<use href="#e62" class="bl" transform="translate(76.3 80) scale(.25) translate(-76.3 -80)"/>
<rect class="ax" width="126.7" height="151"/>
<path class="tm" d="M-4.9,0.4H0M-4.9,44H0M-4.9,87.6H0M-4.9,131.2H0M50,151v4.9M107,151v4.9"/>
<text class="tk yt" x="-9.7" y="5.4">−1.82</text><text class="tk yt" x="-9.7" y="49">−1.83</text><text class="tk yt" x="-9.7" y="92.6">−1.84</text><text class="tk yt" x="-9.7" y="136.2">−1.85</text>
<text class="tk xt" x="50" y="172.6">0.90</text><text class="tk xt" x="107" y="172.6">0.92</text>
<text class="lb" x="63.35" y="198">Permutation</text><text class="lb" x="63.35" y="220">Shannon</text>
<text class="lb" transform="translate(-81.3,75.5) rotate(-90)">Spectral</text><text class="lb" transform="translate(-59.3,75.5) rotate(-90)">Tsallis</text>
</g>
<g id="p-r6c3" transform="translate(623,1257.3)">
<path d="M25.3,37L36,49" stroke="#8fe08f" stroke-width="2" stroke-linecap="round"/>
<path d="M27.5,33L46.7,57" stroke="#8fe08f" stroke-width="2" stroke-linecap="round"/>
<path d="M40,52L85.3,104.4" stroke="#8fe08f" stroke-width="3.6" stroke-linecap="round"/>
<path d="M44,56.5L82,100" stroke="#5cc85c" stroke-width="1.4"/>
<path d="M52,64.4L78.7,94.3" stroke="#6070e0" stroke-width="3" stroke-opacity=".8" stroke-linecap="round"/>
<path d="M59,72L72,87" stroke="#3040b8" stroke-width="2" stroke-opacity=".8"/>
<rect class="ax" width="126.7" height="151"/>
<path class="tm" d="M-4.9,0.4H0M-4.9,44H0M-4.9,87.6H0M-4.9,131.2H0M10.3,151v4.9M80.3,151v4.9"/>
<text class="tk yt" x="-9.7" y="5.4">−1.82</text><text class="tk yt" x="-9.7" y="49">−1.83</text><text class="tk yt" x="-9.7" y="92.6">−1.84</text><text class="tk yt" x="-9.7" y="136.2">−1.85</text>
<text class="tk xt" x="10.3" y="172.6">0.80</text><text class="tk xt" x="80.3" y="172.6">0.85</text>
<text class="lb" x="63.35" y="198">Spectral</text><text class="lb" x="63.35" y="220">Shannon</text>
<text class="lb" transform="translate(-81.3,75.5) rotate(-90)">Spectral</text><text class="lb" transform="translate(-59.3,75.5) rotate(-90)">Tsallis</text>
</g>
<g id="p-r6c4" transform="translate(874.4,1257.3)">
<use href="#k64" class="o"/>
<circle class="o" cx="54" cy="102.7" r="1.2"/>
<use href="#k64i" class="lv" transform="translate(16 80) scale(.9) translate(-16 -80)"/>
<use href="#k64i" class="lv" transform="translate(16 80) scale(.76) translate(-16 -80)"/>
<use href="#k64i" class="lv" transform="translate(16 80) scale(.62) translate(-16 -80)"/>
<use href="#k64i" class="lv" transform="translate(16 80) scale(.5) translate(-16 -80)"/>
<use href="#k64i" class="lv" transform="translate(16 80) scale(.39) translate(-16 -80)"/>
<use href="#k64i" class="lv" transform="translate(16 80) scale(.29) translate(-16 -80)"/>
<use href="#k64i" class="lv" transform="translate(16 80) scale(.2) translate(-16 -80)"/>
<use href="#e64" class="bl"/>
<use href="#e64" class="bl" transform="translate(16.3 80) scale(.75) translate(-16.3 -80)"/>
<use href="#e64" class="bl" transform="translate(16.3 80) scale(.5) translate(-16.3 -80)"/>
<use href="#e64" class="bl" transform="translate(16.3 80) scale(.28) translate(-16.3 -80)"/>
<rect class="ax" width="126.7" height="151"/>
<path class="tm" d="M-4.9,0.4H0M-4.9,44H0M-4.9,87.6H0M-4.9,131.2H0M13.9,151v4.9M52.3,151v4.9M90.6,151v4.9"/>
<text class="tk yt" x="-9.7" y="5.4">−1.82</text><text class="tk yt" x="-9.7" y="49">−1.83</text><text class="tk yt" x="-9.7" y="92.6">−1.84</text><text class="tk yt" x="-9.7" y="136.2">−1.85</text>
<text class="tk xt" x="13.9" y="172.6">−1.75</text><text class="tk xt" x="52.3" y="172.6">−1.50</text><text class="tk xt" x="90.6" y="172.6">−1.25</text>
<text class="lb" x="63.35" y="198">Histogram</text><text class="lb" x="63.35" y="220">Tsallis</text>
<text class="lb" transform="translate(-81.3,75.5) rotate(-90)">Spectral</text><text class="lb" transform="translate(-59.3,75.5) rotate(-90)">Tsallis</text>
</g>
<g id="p-r6c5" transform="translate(1125.8,1257.3)">
<use href="#k65" class="o"/>
<ellipse class="lv" cx="43" cy="80" rx="38" ry="20" transform="rotate(-12 43 80)"/>
<ellipse class="lv" cx="43" cy="80" rx="35" ry="18.5" transform="rotate(-12 43 80)"/>
<use href="#e65" class="bl"/>
<use href="#e65" class="bl" transform="translate(44 79.5) scale(.8) translate(-44 -79.5)"/>
<use href="#e65" class="bl" transform="translate(45 79.5) scale(.6) translate(-45 -79.5)"/>
<use href="#e65" class="bl" transform="translate(46 79.5) scale(.42) translate(-46 -79.5)"/>
<use href="#e65" class="bl" transform="translate(47 79.5) scale(.25) translate(-47 -79.5)"/>
<rect class="ax" width="126.7" height="151"/>
<path class="tm" d="M-4.9,0.4H0M-4.9,44H0M-4.9,87.6H0M-4.9,131.2H0M24.2,151v4.9M62.5,151v4.9M100.9,151v4.9"/>
<text class="tk yt" x="-9.7" y="5.4">−1.82</text><text class="tk yt" x="-9.7" y="49">−1.83</text><text class="tk yt" x="-9.7" y="92.6">−1.84</text><text class="tk yt" x="-9.7" y="136.2">−1.85</text>
<text class="tk xt" x="24.2" y="172.6">−1.21</text><text class="tk xt" x="62.5" y="172.6">−1.20</text><text class="tk xt" x="100.9" y="172.6">−1.19</text>
<text class="lb" x="63.35" y="198">Permutation</text><text class="lb" x="63.35" y="220">Tsallis</text>
<text class="lb" transform="translate(-81.3,75.5) rotate(-90)">Spectral</text><text class="lb" transform="translate(-59.3,75.5) rotate(-90)">Tsallis</text>
</g>
<g id="p-r6c6" transform="translate(1377.3,1257.3)">
<path class="g" d="M4.4,149.4L32.7,148.7L42.7,146L47.7,129.4L51,100L54.4,66L58.7,25.7L62.7,49.4L66,80L69.3,109.4L76,139.4L87.7,144.4L96,146L106,148.7L121,149.4"/>
<path class="n" d="M41,149.4L47.7,142.7L52.7,82.7L57.7,25.7L62.7,82.7L69.3,142.7L72.7,148.7L86,149.4"/>
<rect class="ax" width="126.7" height="151"/>
<path class="tm" d="M-4.9,25.7H0M-4.9,56.9H0M-4.9,88.1H0M-4.9,119.2H0M-4.9,150.4H0M57.7,151v4.9M121.7,151v4.9"/>
<text class="tk yt" x="-9.7" y="30.7">1.00</text><text class="tk yt" x="-9.7" y="61.9">0.75</text><text class="tk yt" x="-9.7" y="93.1">0.50</text><text class="tk yt" x="-9.7" y="124.2">0.25</text><text class="tk yt" x="-9.7" y="155.4">0.00</text>
<text class="tk xt" x="57.7" y="172.6">−1.84</text><text class="tk xt" x="121.7" y="172.6">−1.82</text>
<text class="lb" x="63.35" y="198">Spectral</text><text class="lb" x="63.35" y="220">Tsallis</text>
<text class="lb" transform="translate(-47.6,75.5) rotate(-90)">Density</text>
</g>

<g id="legend">
<rect x="1516.7" y="1264.3" width="165.6" height="45.7" rx="3" fill="#fff" fill-opacity=".8" stroke="#cccccc" stroke-width="1"/>
<path d="M1520,1276H1551" stroke="#008000" stroke-width="2"/>
<path d="M1520,1296.7H1551" stroke="#00008b" stroke-width="2"/>
<text class="lg" x="1560" y="1281">Signal and Noise</text>
<text class="lg" x="1560" y="1301.5">Noise</text>
</g>
</svg>
